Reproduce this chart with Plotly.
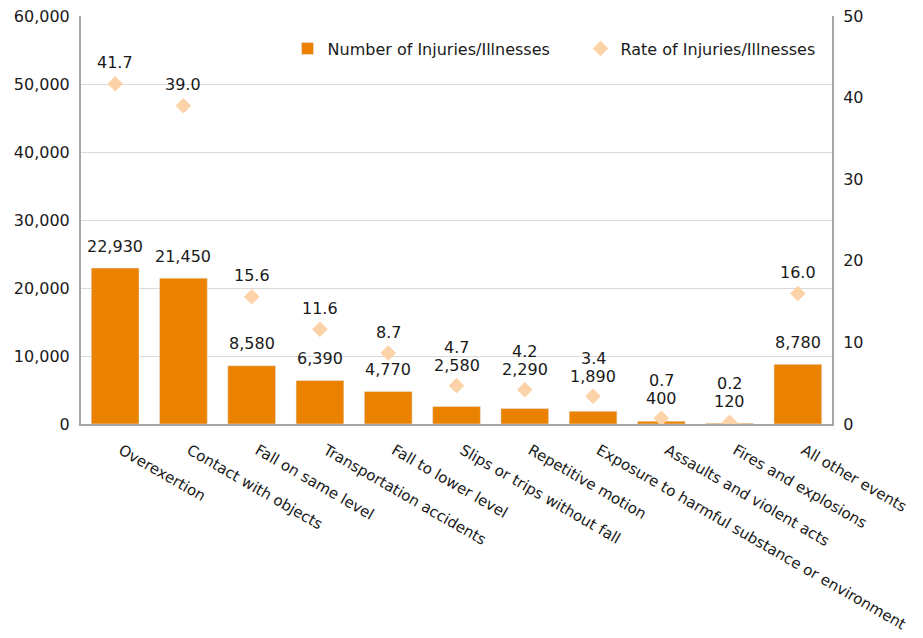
import plotly.graph_objects as go

# 数据
categories = [
    "Overexertion",
    "Contact with objects",
    "Fall on same level",
    "Transportation accidents",
    "Fall to lower level",
    "Slips or trips without fall",
    "Repetitive motion",
    "Exposure to harmful substance or environment",
    "Assaults and violent acts",
    "Fires and explosions",
    "All other events",
]
injury_counts = [22930, 21450, 8580, 6390, 4770, 2580, 2290, 1890, 400, 120, 8780]
injury_rates = [41.7, 39.0, 15.6, 11.6, 8.7, 4.7, 4.2, 3.4, 0.7, 0.2, 16.0]

# 坐标轴范围
y1_max = 60000
y2_max = 50

bar_color = "#EA8200"
rate_color = "#FCD3A8"
text_color = "#1a1a1a"
font_family = "DejaVu Sans, Verdana, sans-serif"
font_size = 16

# 绘图区尺寸
plot_h = 408
margin = dict(l=81, r=91, t=16, b=214)

fig = go.Figure()

fig.add_trace(go.Bar(
    x=categories,
    y=injury_counts,
    name="Number of Injuries/Illnesses",
    marker_color=bar_color,
    yaxis="y",
))

fig.add_trace(go.Scatter(
    x=categories,
    y=injury_rates,
    name="Rate of Injuries/Illnesses",
    mode="markers",
    marker=dict(symbol="diamond", size=12, color=rate_color),
    yaxis="y2",
))

# 数据标签 (以像素计算位置，避免重叠)
u1 = plot_h / y1_max
u2 = plot_h / y2_max
annotations = []
for cat, cnt, rate in zip(categories, injury_counts, injury_rates):
    bar_label = cnt * u1 + 22
    marker_px = rate * u2
    if marker_px < bar_label:
        bar_label = max(bar_label, marker_px + 20)
    rate_label = max(marker_px + 21, bar_label + 18)
    annotations.append(dict(
        x=cat, y=bar_label / u1, xref="x", yref="y",
        text=f"{cnt:,}", showarrow=False, yanchor="middle",
        font=dict(size=font_size, color=text_color, family=font_family),
    ))
    annotations.append(dict(
        x=cat, y=rate_label / u1, xref="x", yref="y",
        text=f"{rate:.1f}", showarrow=False, yanchor="middle",
        font=dict(size=font_size, color=text_color, family=font_family),
    ))

fig.update_layout(
    width=923,
    height=638,
    margin=margin,
    paper_bgcolor="white",
    plot_bgcolor="white",
    font=dict(family=font_family, size=font_size, color=text_color),
    bargap=0.3,
    showlegend=True,
    legend=dict(
        orientation="h",
        x=0.275, y=0.92, xanchor="left", yanchor="middle",
        entrywidth=248,
        bgcolor="rgba(0,0,0,0)",
        font=dict(size=font_size, color=text_color),
    ),
    xaxis=dict(
        range=[-0.5, len(categories) - 0.5],
        tickangle=30,
        showline=True,
        linecolor="#a6a6a6",
        linewidth=2,
        showgrid=False,
        ticks="",
        ticklabelstandoff=10,
        ticklabelshift=6,
        tickfont=dict(size=15),
        automargin=False,
    ),
    yaxis=dict(
        range=[0, y1_max],
        dtick=10000,
        tickformat=",",
        showline=True,
        linecolor="#a6a6a6",
        linewidth=2,
        gridcolor="#d9d9d9",
        gridwidth=1,
        zeroline=False,
        ticks="",
        ticklabelstandoff=6,
        automargin=False,
    ),
    yaxis2=dict(
        range=[0, y2_max],
        dtick=10,
        overlaying="y",
        side="right",
        showline=True,
        linecolor="#a6a6a6",
        linewidth=2,
        showgrid=False,
        zeroline=False,
        ticks="",
        ticklabelstandoff=6,
        automargin=False,
    ),
    annotations=annotations,
)

# 去掉页面默认边距
fig.write_html(
    "out.html",
    config={"displayModeBar": False},
    post_script="document.body.style.margin = '0';",
)
